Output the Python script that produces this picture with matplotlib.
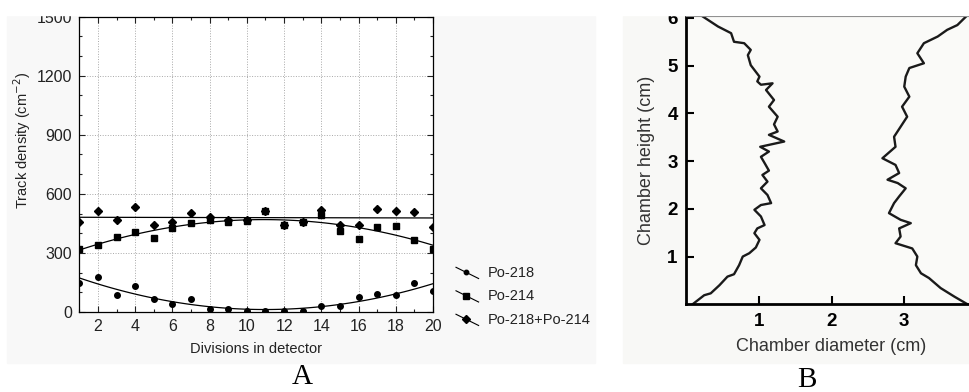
import numpy as np
import matplotlib
matplotlib.use('Agg')
import matplotlib.pyplot as plt
from matplotlib.lines import Line2D
from matplotlib.patches import Rectangle
from matplotlib.legend_handler import HandlerLine2D
from matplotlib.ticker import MultipleLocator

plt.rcParams['font.family'] = ['Liberation Sans', 'DejaVu Sans']

# Panel A: track density per detector division
divisions = np.arange(1, 21)
po218 = [146, 178, 88, 130, 64, 41, 64, 15, 15, 5, 3, 3, 5, 32, 32, 76, 93, 88, 147, 105]
po214 = [318, 341, 380, 407, 376, 427, 451, 466, 459, 460, 512, 444, 456, 493, 413, 371, 432, 437, 364, 322]
po_sum = [459, 515, 466, 532, 442, 459, 502, 481, 466, 466, 515, 444, 456, 520, 442, 442, 525, 514, 507, 429]
series_labels = ['Po-218', 'Po-214', 'Po-218+Po-214']

# Panel B: chamber wall profiles (diameter in cm, height in cm)
left_d = [0.09, 0.25, 0.34, 0.46, 0.57, 0.66, 0.73, 0.78, 0.87, 0.96, 1.01, 0.94, 0.98, 1.08,
          1.03, 0.94, 1.03, 1.17, 1.12, 1.03, 1.12, 1.05, 1.14, 1.08, 1.03, 1.14, 1.02, 1.35,
          1.14, 1.26, 1.21, 1.26, 1.14, 1.21, 1.10, 1.19, 1.03, 0.98, 1.01, 0.89, 0.85, 0.89,
          0.80, 0.66, 0.62, 0.44, 0.23]
left_h = [0.00, 0.19, 0.23, 0.40, 0.58, 0.63, 0.82, 1.00, 1.07, 1.19, 1.35, 1.49, 1.59, 1.66,
          1.84, 1.98, 2.08, 2.12, 2.29, 2.43, 2.57, 2.71, 2.80, 2.96, 3.09, 3.20, 3.30, 3.41,
          3.55, 3.62, 3.77, 3.93, 4.14, 4.28, 4.49, 4.63, 4.60, 4.67, 4.77, 5.01, 5.22, 5.33,
          5.47, 5.50, 5.68, 5.82, 6.03]
right_d = [3.87, 3.69, 3.50, 3.34, 3.23, 3.16, 3.18, 3.11, 2.88, 2.95, 2.93, 3.09, 2.95, 2.79,
           2.86, 2.93, 3.02, 2.91, 2.77, 2.93, 2.88, 2.70, 2.88, 2.86, 2.95, 3.04, 2.97, 3.07,
           3.00, 3.02, 3.07, 3.27, 3.18, 3.27, 3.46, 3.59, 3.73, 3.85]
right_h = [0.00, 0.16, 0.34, 0.55, 0.65, 0.82, 1.00, 1.17, 1.28, 1.42, 1.59, 1.70, 1.77, 1.91,
           2.12, 2.26, 2.43, 2.54, 2.61, 2.75, 2.92, 3.06, 3.30, 3.51, 3.72, 3.93, 4.14, 4.35,
           4.56, 4.77, 4.95, 5.05, 5.26, 5.47, 5.61, 5.75, 5.85, 6.03]


class SlantHandler(HandlerLine2D):
    """Statistica-like legend key: short slanted line with marker"""

    def create_artists(self, legend, orig_handle, xdescent, ydescent,
                       width, height, fontsize, trans):
        x0 = -xdescent
        x1 = x0 + width
        ytop = -ydescent + height * 0.95
        ybot = -ydescent - height * 0.15
        line = Line2D([x0, x1], [ytop, ybot], color='black', lw=0.8)
        mk = Line2D([x0 + 0.45 * width], [ytop - 0.45 * (ytop - ybot)],
                    marker=orig_handle.get_marker(),
                    markersize=orig_handle.get_markersize() * 0.8,
                    color='black', lw=0)
        line.set_transform(trans)
        mk.set_transform(trans)
        return [line, mk]


W, H = 969, 392
fig = plt.figure(figsize=(W / 100, H / 100), dpi=100)

# faint panel backgrounds
fig.patches.append(Rectangle((7 / W, 1 - 363 / H), 588 / W, 347 / H,
                             transform=fig.transFigure, color='#f8f8f8', zorder=-10))
fig.patches.append(Rectangle((623 / W, 1 - 363 / H), 346 / W, 347 / H,
                             transform=fig.transFigure, color='#f8f8f6', zorder=-10))

# ---------------- Panel A ----------------
axA = fig.add_axes([79.3 / W, 1 - 312 / H, 353.7 / W, 295.5 / H])
axA.set_facecolor('white')

markers = ['o', 's', 'D']
sizes = [4, 5, 4.5]
handles = []
for vals, mk, ms, deg in zip([po218, po214, po_sum], markers, sizes, [2, 2, 1]):
    axA.plot(divisions, vals, linestyle='none', marker=mk, markersize=ms,
             color='black', clip_on=True, zorder=3)
    coef = np.polyfit(divisions, vals, deg)
    xf = np.linspace(1, 20, 100)
    axA.plot(xf, np.polyval(coef, xf), color='black', lw=0.9, zorder=2)
    handles.append(Line2D([], [], marker=mk, markersize=ms, color='black'))

axA.set_xlim(1, 20)
axA.set_ylim(0, 1500)
axA.xaxis.set_major_locator(MultipleLocator(2))
axA.xaxis.set_minor_locator(MultipleLocator(1))
axA.yaxis.set_major_locator(MultipleLocator(300))
axA.yaxis.set_minor_locator(MultipleLocator(100))
axA.tick_params(which='both', direction='in', top=True, right=True,
                labelsize=11.5, colors='#222222', width=0.8)
axA.tick_params(which='major', length=4)
axA.tick_params(which='minor', length=2.5)
axA.tick_params(axis='x', pad=5)
axA.tick_params(axis='y', pad=5)
axA.grid(True, which='major', linestyle=':', color='#a8a8a8', lw=0.7)
for s in axA.spines.values():
    s.set_linewidth(0.9)
axA.set_xlabel('Divisions in detector', fontsize=10.5, color='#222222', labelpad=6)
axA.set_ylabel('Track density (cm$^{-2}$)', fontsize=10.5, color='#222222')
axA.yaxis.set_label_coords(-0.13, 0.58)

fig.legend(handles, series_labels, handler_map={Line2D: SlantHandler()},
           loc='upper left', bbox_to_anchor=(456 / W, 1 - 266 / H),
           frameon=False, fontsize=10.5, handlelength=1.55, handletextpad=0.6,
           labelspacing=0.65, borderpad=0, borderaxespad=0, labelcolor='#222222')

# ---------------- Panel B ----------------
axB = fig.add_axes([686 / W, 1 - 304.3 / H, 291 / W, 288.3 / H])
axB.set_facecolor('#fafaf8')
axB.plot(left_d, left_h, color='#1a1a1a', lw=1.7)
axB.plot(right_d, right_h, color='#1a1a1a', lw=1.7)
axB.set_xlim(0, 4)
axB.set_ylim(0, 6.04)
axB.set_xticks([1, 2, 3, 4])
axB.set_yticks([1, 2, 3, 4, 5, 6])
axB.tick_params(direction='in', length=6, width=1.5, labelsize=13.5, colors='black')
axB.tick_params(axis='x', pad=6)
axB.tick_params(axis='y', pad=6)
for lab in axB.get_xticklabels() + axB.get_yticklabels():
    lab.set_fontweight('bold')
axB.spines['left'].set_linewidth(2)
axB.spines['bottom'].set_linewidth(2)
axB.spines['top'].set_linewidth(0.8)
axB.spines['top'].set_color('#777777')
axB.spines['right'].set_visible(False)
axB.set_xlabel('Chamber diameter (cm)', fontsize=13, color='#333333', labelpad=6)
axB.set_ylabel('Chamber height (cm)', fontsize=13, color='#333333', labelpad=9)

# panel letters
fig.text(302 / W, 1 - 377 / H, 'A', family='Liberation Serif', fontsize=21,
         ha='center', va='center')
fig.text(807 / W, 1 - 380 / H, 'B', family='Liberation Serif', fontsize=21,
         ha='center', va='center')

# the source image is cropped at the top
fig.patches.append(Rectangle((0, 1 - 15 / H), 1, 15 / H, transform=fig.transFigure,
                             color='white', zorder=100))

fig.savefig('out.png', dpi=100)
